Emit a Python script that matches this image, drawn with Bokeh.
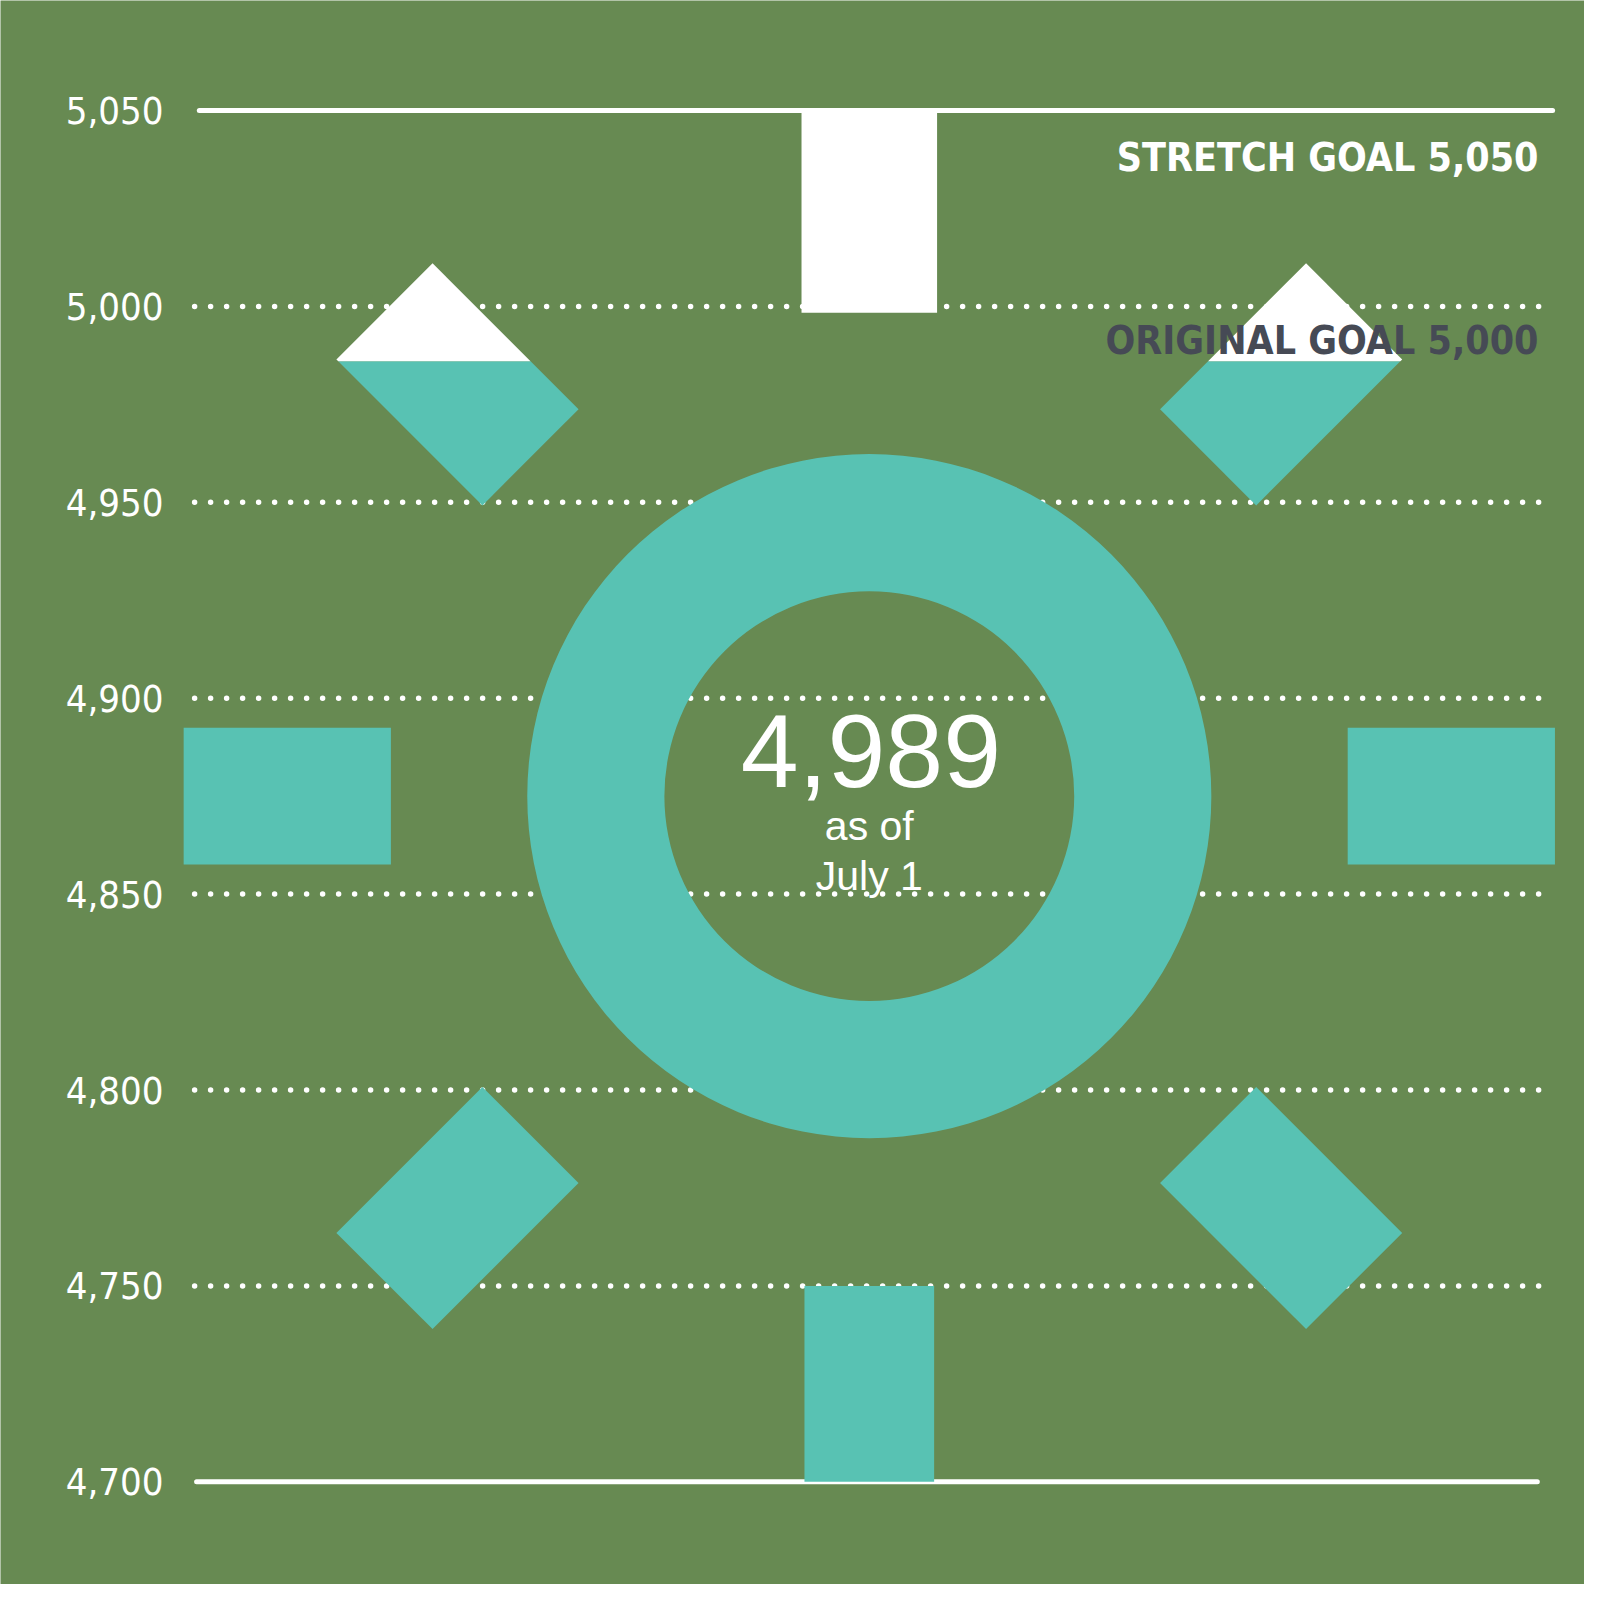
import numpy as np
from bokeh.plotting import figure
from bokeh.models import Range1d
from bokeh.core.properties import value
from bokeh.embed import file_html
from bokeh.resources import INLINE

# ---------------- data ----------------
tick_values = [4700, 4750, 4800, 4850, 4900, 4950, 5000, 5050]
tick_labels = ["4,700", "4,750", "4,800", "4,850", "4,900", "4,950", "5,000", "5,050"]
dotted_levels = [4750, 4800, 4850, 4900, 4950, 5000]
stretch_goal = 5050
original_goal = 5000
baseline_level = 4700
current_total = 4989
current_label = "4,989"
as_of_lines = ["as of", "July 1"]
stretch_label = "STRETCH GOAL 5,050"
original_label = "ORIGINAL GOAL 5,000"
sun_center = 4875          # vertical centre of the sun (value units)
ray_angles = [90, 45, 0, -45, -90, -135, 180, 135]
ray_inner = [123.4, 122.3, 122.1, 122.3, 125.0, 122.3, 122.1, 122.3]
ray_outer = [175.0, 175.0, 175.0, 175.0, 175.0, 175.0, 175.0, 175.0]
ray_width = [34.6, 34.7, 34.9, 34.7, 33.1, 34.7, 34.9, 34.7]
ring_inner, ring_outer = 52.3, 87.3
white_level = 4986         # rays are white above this level

# ---------------- style ----------------
BG = "#678A52"
TEAL = "#58C2B3"
WHITE = "#FFFFFF"
DARK = "#464A55"
COND = "DejaVu Sans Condensed"
SANS = "Liberation Sans"

PX = 3.918        # pixels per value unit (both axes)
W = H = 1584
CX_PIX = 868.8    # pixel x of sun centre within the figure
TOP_PIX = 110     # pixel y of 5050 line within the figure
LABEL_RIGHT_PIX = 163

p = figure(width=W, height=H, output_backend="svg", toolbar_location=None,
           x_axis_location=None, y_axis_location=None,
           x_range=Range1d(-CX_PIX / PX, (W - CX_PIX) / PX),
           y_range=Range1d(stretch_goal - (H - TOP_PIX) / PX, stretch_goal + TOP_PIX / PX),
           min_border_left=0, min_border_right=0, min_border_top=0, min_border_bottom=0)
p.background_fill_color = BG
p.border_fill_color = BG
p.outline_line_color = None
p.grid.visible = False

# value labels at the left
label_x = (LABEL_RIGHT_PIX - CX_PIX) / PX
p.text(x=[label_x] * len(tick_values), y=tick_values, text=tick_labels,
       text_font=value(COND), text_font_size="38px", text_color=WHITE,
       text_align="right", text_baseline="middle")

# dotted guide lines
n = len(dotted_levels)
p.segment(x0=[-172.2] * n, x1=[171.6] * n, y0=dotted_levels, y1=dotted_levels,
          line_color=WHITE, line_width=5.5, line_dash="0 16", line_cap="round")
# solid top / bottom lines
p.segment(x0=[-171.0, -171.7], x1=[174.4, 170.5], y0=[stretch_goal, baseline_level],
          y1=[stretch_goal, baseline_level], line_color=WHITE, line_width=5, line_cap="round")

# ring
p.annulus(x=[0], y=[sun_center], inner_radius=ring_inner, outer_radius=ring_outer,
          fill_color=TEAL, line_color=None)


def ray_polygon(angle, r_in, r_out, width):
    t = np.deg2rad(angle)
    d = np.array([np.cos(t), np.sin(t)])
    nrm = np.array([-np.sin(t), np.cos(t)])
    c = np.array([0.0, sun_center])
    hw = width / 2
    return [tuple(c + d * r_in + nrm * hw), tuple(c + d * r_out + nrm * hw),
            tuple(c + d * r_out - nrm * hw), tuple(c + d * r_in - nrm * hw)]


def clip(poly, level, above):
    def inside(pt):
        return pt[1] >= level if above else pt[1] <= level

    def cross(a, b):
        f = (level - a[1]) / (b[1] - a[1])
        return (a[0] + f * (b[0] - a[0]), level)

    out = []
    for i in range(len(poly)):
        cur, prev = poly[i], poly[i - 1]
        if inside(cur):
            if not inside(prev):
                out.append(cross(prev, cur))
            out.append(cur)
        elif inside(prev):
            out.append(cross(prev, cur))
    return out


teal_xs, teal_ys, white_xs, white_ys = [], [], [], []
for a, ri, ro, w in zip(ray_angles, ray_inner, ray_outer, ray_width):
    poly = ray_polygon(a, ri, ro, w)
    lo = clip(poly, white_level, above=False)
    hi = clip(poly, white_level, above=True)
    if len(lo) >= 3:
        teal_xs.append([q[0] for q in lo]); teal_ys.append([q[1] for q in lo])
    if len(hi) >= 3:
        white_xs.append([q[0] for q in hi]); white_ys.append([q[1] for q in hi])

p.patches(teal_xs, teal_ys, fill_color=TEAL, line_color=None)
p.patches(white_xs, white_ys, fill_color=WHITE, line_color=None)

# goal labels
p.text(x=[170.8], y=[5038.0], text=[stretch_label], text_font=value(COND),
       text_font_style="bold", text_font_size="39px", text_color=WHITE,
       text_align="right", text_baseline="middle")
p.text(x=[170.8], y=[4991.3], text=[original_label], text_font=value(COND),
       text_font_style="bold", text_font_size="39px", text_color=DARK,
       text_align="right", text_baseline="middle")

# centre labels
p.text(x=[0.4], y=[4886.6], text=[current_label], text_font=value(SANS),
       text_font_size="104px", text_color=WHITE, text_align="center",
       text_baseline="middle")
p.text(x=[0, 0], y=[4867.4, 4854.7], text=as_of_lines, text_font=value(SANS),
       text_font_size="41px", text_color=WHITE, text_align="center",
       text_baseline="middle")

open("out.html", "w").write(file_html(p, INLINE))
